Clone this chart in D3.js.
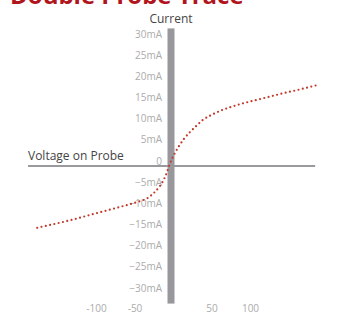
<!DOCTYPE html>
<html>
<head>
<meta charset="utf-8">
<script src="https://cdn.jsdelivr.net/npm/d3@7"></script>
<style>
  body { margin: 0; background: #fff; }
  svg { display: block; font-family: "Open Sans", sans-serif; }
</style>
</head>
<body>
<div id="container"></div>
<script>
/* CONSTANTS AND GLOBALS */
const width = 342;
const height = 314;

/* DATA */
// voltage on probe (V) and current (mA)
const voltage = [-177, -134, -95, -70, -47, -34, -24, -17.5, -12.3, -8.4, -5.8, -1.9, 1.9, 7.1,
  13.6, 21.4, 29.2, 38.3, 48.7, 60.4, 86.4, 112.3, 138.3, 164.3, 186.4];
const current = [-14.6, -12.8, -10.9, -9.7, -8.5, -7.6, -6.1, -4.7, -3.1, -1.4, 0, 1.7, 3.1, 4.7,
  6.4, 8.0, 9.4, 10.9, 12.0, 13.0, 14.6, 15.8, 17.0, 18.1, 19.1];

const yTicks = [30, 25, 20, 15, 10, 5, 0, -5, -10, -15, -20, -25, -30];
const xTicks = [-100, -50, 50, 100];

const points = voltage.map((v, i) => ({ v: v, c: current[i] }));

/* SCALES */
const xScale = d3.scaleLinear().domain([0, 100]).range([173.5, 250.5]);
const yScale = d3.scaleLinear().domain([0, 30]).range([166, 39]);

const svg = d3.select("#container")
  .append("svg")
  .attr("width", width)
  .attr("height", height);

// title (cut off at the top)
svg.append("text")
  .attr("x", 10)
  .attr("y", 4)
  .attr("fill", "#b0141c")
  .style("font-weight", "bold")
  .style("font-size", "24px")
  .text("Double Probe Trace");

// horizontal axis line
svg.append("line")
  .attr("x1", xScale(-189))
  .attr("x2", xScale(184))
  .attr("y1", yScale(0))
  .attr("y2", yScale(0))
  .attr("stroke", "#9a9a9e")
  .attr("stroke-width", 2);

// vertical bar
svg.append("rect")
  .attr("x", xScale(0) - 6)
  .attr("width", 7)
  .attr("y", yScale(32.5))
  .attr("height", yScale(-32.5) - yScale(32.5))
  .attr("fill", "#98989c");

// y tick labels
svg.append("g")
  .selectAll("text")
  .data(yTicks)
  .join("text")
    .attr("x", 162)
    .attr("y", d => yScale(d) - 1.4)
    .attr("text-anchor", "end")
    .attr("fill", "#ababab")
    .style("font-size", "10px")
    .text(d => d === 0 ? "0" : (d < 0 ? "\u2212" + (-d) : d) + "mA");

// x tick labels
svg.append("g")
  .selectAll("text")
  .data(xTicks)
  .join("text")
    .attr("x", d => xScale(d))
    .attr("y", 311.5)
    .attr("text-anchor", "middle")
    .attr("fill", "#ababab")
    .style("font-size", "10px")
    .text(d => d);

// axis titles
svg.append("text")
  .attr("x", 171)
  .attr("y", 22.5)
  .attr("text-anchor", "middle")
  .attr("fill", "#444")
  .style("font-size", "12px")
  .text("Current");

svg.append("text")
  .attr("x", 28)
  .attr("y", 160)
  .attr("fill", "#444")
  .style("font-size", "12px")
  .text("Voltage on Probe");

// dotted trace
const line = d3.line()
  .x(d => xScale(d.v))
  .y(d => yScale(d.c))
  .curve(d3.curveMonotoneX);

svg.append("path")
  .datum(points)
  .attr("d", line)
  .attr("fill", "none")
  .attr("stroke", "#c23b2a")
  .attr("stroke-width", 2.2)
  .attr("stroke-linecap", "round")
  .attr("stroke-dasharray", "0 4.4");
</script>
</body>
</html>
